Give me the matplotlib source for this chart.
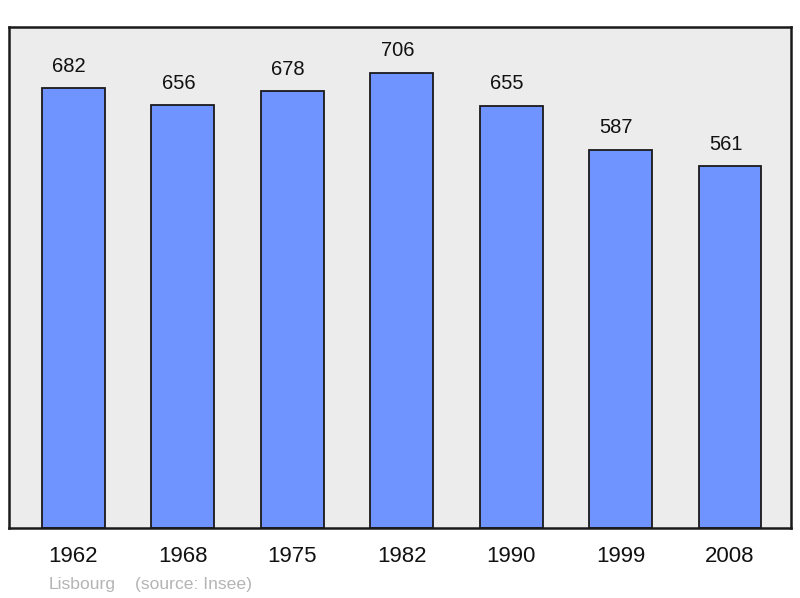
import matplotlib
matplotlib.use("Agg")
import matplotlib.pyplot as plt

years = ["1962", "1968", "1975", "1982", "1990", "1999", "2008"]
population = [682, 656, 678, 706, 655, 587, 561]

plt.rcParams['font.family'] = ['Liberation Sans', 'DejaVu Sans']

fig = plt.figure(figsize=(8, 5.98), dpi=100)
W, H = 800, 598
ax = fig.add_axes([9 / W, 1 - 528 / H, (791 - 9) / W, (528 - 27) / H])
ax.set_facecolor('#ececec')

x = list(range(len(years)))
ax.bar(x, population, width=0.575, color='#7094ff', edgecolor='#1a1a1a', linewidth=1.3, zorder=2)
for xi, v in zip(x, population):
    ax.annotate(str(v), (xi, v), xytext=(-3, 9), textcoords='offset points',
                ha='center', va='bottom', fontsize=14.5, color='#111111')

ax.set_xlim(-0.585, 6.557)
ax.set_ylim(0, 777.3)
ax.set_xticks(x)
ax.set_xticklabels(years, fontsize=16, color='#111111')
ax.tick_params(axis='x', length=0, pad=13)
ax.set_yticks([])
for s in ax.spines.values():
    s.set_linewidth(1.8)
    s.set_color('#1a1a1a')

fig.text(49 / W, 1 - 584 / H, "Lisbourg", fontsize=12.6, color='#b4b4b4', va='center', ha='left')
fig.text(135 / W, 1 - 584 / H, "(source: Insee)", fontsize=12.6, color='#b4b4b4', va='center', ha='left')

fig.savefig("out.png", dpi=100)
